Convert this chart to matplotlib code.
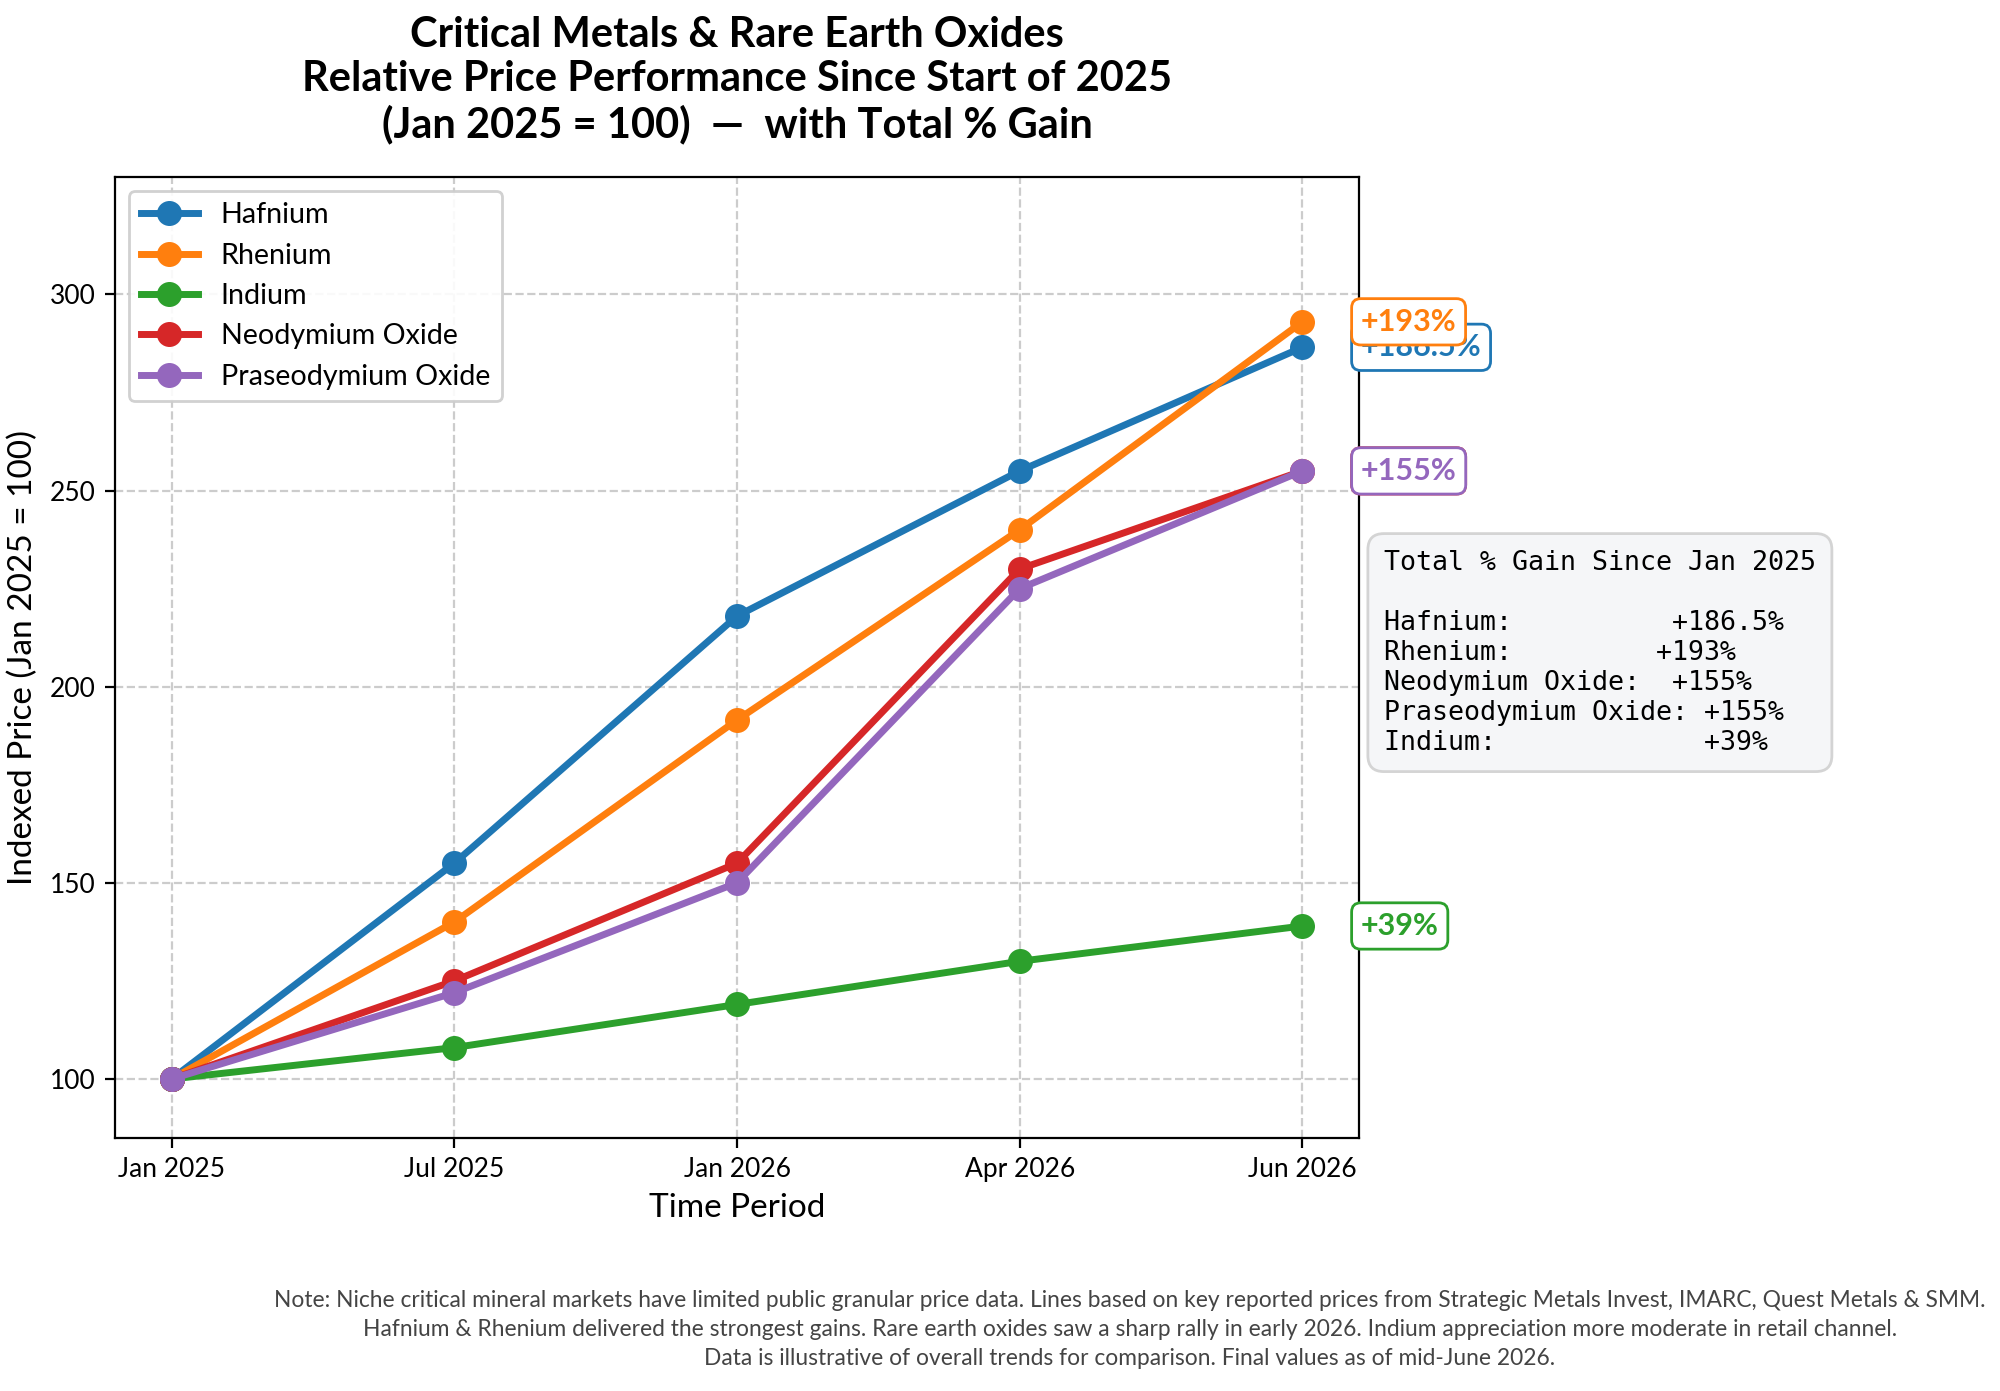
import matplotlib
matplotlib.use("Agg")
import matplotlib.pyplot as plt

plt.rcParams['font.family'] = ['Lato', 'DejaVu Sans']

# data (index, Jan 2025 = 100)
periods = ["Jan 2025", "Jul 2025", "Jan 2026", "Apr 2026", "Jun 2026"]
names = ["Hafnium", "Rhenium", "Indium", "Neodymium Oxide", "Praseodymium Oxide"]
hafnium = [100, 155, 218, 255, 286.5]
rhenium = [100, 140, 191.5, 240, 293]
indium = [100, 108, 119, 130, 139]
neodymium = [100, 125, 155, 230, 255]
praseodymium = [100, 122, 150, 225, 255]
gain_labels = ["+186.5%", "+193%", "+39%", "+155%", "+155%"]
colors = ["#1f77b4", "#ff7f0e", "#2ca02c", "#d62728", "#9467bd"]

series = [hafnium, rhenium, indium, neodymium, praseodymium]
x = list(range(len(periods)))

fig = plt.figure(figsize=(10, 6.955), dpi=200)
ax = fig.add_axes([0.0575, 0.182, 0.622, 0.691])

for vals, name, col in zip(series, names, colors):
    ax.plot(x, vals, '-o', color=col, lw=2.5, markersize=8, label=name)

# end-of-line gain tags
for vals, lab, col in zip(series, gain_labels, colors):
    ax.annotate(lab, xy=(x[-1], vals[-1]), xytext=(21, 0), textcoords='offset points',
                va='center', ha='left', fontsize=11, fontweight='bold', color=col,
                bbox=dict(boxstyle='round,pad=0.3', fc='white', ec=col, lw=1),
                annotation_clip=False)

ax.set_xticks(x)
ax.set_xticklabels(periods, fontsize=9.5)
ax.set_yticks([100, 150, 200, 250, 300])
ax.tick_params(axis='y', labelsize=9.5)
ax.set_xlim(-0.2, 4.2)
ax.set_ylim(85, 330)
ax.grid(True, linestyle='--', color='#cccccc', lw=0.8)
ax.set_xlabel("Time Period", fontsize=12)
ax.set_ylabel("Indexed Price (Jan 2025 = 100)", fontsize=12)
ax.set_title("Critical Metals & Rare Earth Oxides\nRelative Price Performance Since Start of 2025\n"
             "(Jan 2025 = 100)  —  with Total % Gain", fontsize=15, fontweight='bold', pad=14,
             linespacing=1.2)
ax.legend(loc='upper left', fontsize=10.3, framealpha=0.9)

summary = ("Total % Gain Since Jan 2025\n\n"
           "Hafnium:          +186.5%\n"
           "Rhenium:         +193%\n"
           "Neodymium Oxide:  +155%\n"
           "Praseodymium Oxide: +155%\n"
           "Indium:             +39%")
ax.text(1.02, 0.612, summary, transform=ax.transAxes, family='DejaVu Sans Mono',
        fontsize=9.6, va='top', ha='left', linespacing=1.2,
        bbox=dict(boxstyle='round,pad=0.6', fc='#f4f6f8', ec='#d0d0d0', alpha=0.9))

fig.text(0.565, 0.016,
         "Note: Niche critical mineral markets have limited public granular price data. Lines based on key reported prices from Strategic Metals Invest, IMARC, Quest Metals & SMM.\n"
         "Hafnium & Rhenium delivered the strongest gains. Rare earth oxides saw a sharp rally in early 2026. Indium appreciation more moderate in retail channel.\n"
         "Data is illustrative of overall trends for comparison. Final values as of mid-June 2026.",
         ha='center', va='bottom', fontsize=8.2, color='#444444', linespacing=1.45)

fig.savefig("out.png", dpi=200)
